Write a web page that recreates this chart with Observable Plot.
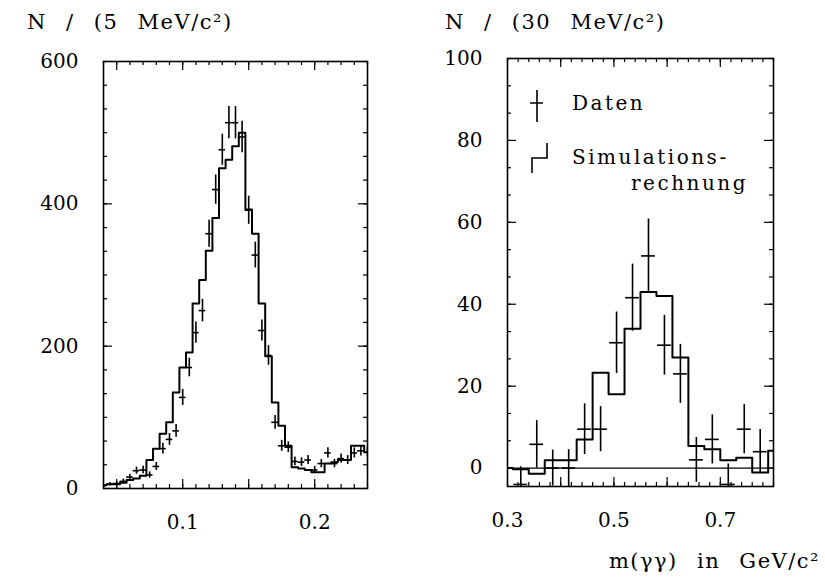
<!DOCTYPE html>
<html>
<head>
<meta charset="utf-8">
<script src="https://cdn.jsdelivr.net/npm/d3@7"></script>
<script src="https://cdn.jsdelivr.net/npm/@observablehq/plot@0.6"></script>
<style>
  body { margin: 0; background: #fff; }
  #page { position: relative; width: 825px; height: 578px; overflow: hidden; background: #fff; }
  #page > svg { position: absolute; }
</style>
</head>
<body>
<div id="page"></div>
<script>
// Left panel: m(γγ) around the π0, 5 MeV bins (bin centres in GeV/c²)
const massL = [0.040, 0.045, 0.050, 0.055, 0.060, 0.065, 0.070, 0.075, 0.080, 0.085,
               0.090, 0.095, 0.100, 0.105, 0.110, 0.115, 0.120, 0.125, 0.130, 0.135,
               0.140, 0.145, 0.150, 0.155, 0.160, 0.165, 0.170, 0.175, 0.180, 0.185,
               0.190, 0.195, 0.200, 0.205, 0.210, 0.215, 0.220, 0.225, 0.230, 0.235, 0.240];
// Simulation (histogram)
const simL  = [5, 6, 6, 8, 12, 14, 18, 40, 56, 77,
               93, 135, 170, 191, 260, 293, 334, 380, 450, 462,
               481, 500, 392, 358, 260, 186, 121, 88, 60, 30,
               28, 26, 23, 23, 35, 37, 40, 40, 60, 60, 51];
// Data (points with error bars)
const dataL = [4, 6, 7, 10, 16, 25, 26, 19, 31, 56,
               69, 81, 128, 170, 219, 250, 358, 420, 476, 514,
               514, 494, 391, 328, 222, 187, 93, 60, 58, 38,
               37, 40, 26, 35, 50, 35, 42, 40, 50, 53, 51];
const errL  = [2, 2.5, 2.6, 3.2, 4, 5, 5.1, 4.4, 5.6, 7.5,
               8.3, 9, 11.3, 13, 14.8, 15.8, 18.9, 20.5, 21.8, 22.7,
               22.7, 22.2, 19.8, 18.1, 14.9, 13.7, 9.6, 7.7, 7.6, 6.2,
               6.1, 6.3, 5.1, 5.9, 7.1, 5.9, 6.5, 6.3, 7.1, 7.3, 7.1];

// Right panel: η region, 30 MeV bins
const massSimR = [0.295, 0.325, 0.355, 0.385, 0.415, 0.445, 0.475, 0.505, 0.535,
                  0.565, 0.595, 0.625, 0.655, 0.685, 0.715, 0.745, 0.775, 0.805];
const simR     = [0, -0.3, -1.4, 1.9, 1.9, 7, 23.3, 18, 34,
                  43, 42, 27, 5.4, 4.6, 1.9, 2.5, -1.1, 4.2];
const massDataR = [0.325, 0.355, 0.385, 0.415, 0.445, 0.475, 0.505, 0.535,
                   0.565, 0.595, 0.625, 0.655, 0.685, 0.715, 0.745, 0.775];
const dataR     = [-4, 5.8, 0, 0, 9.5, 9.5, 30.6, 41.6,
                   51.8, 30, 23, 2, 7, -4, 9.5, 4];
const errR      = [4.3, 5.8, 4.4, 4.5, 6.2, 5.5, 7.5, 8.2,
                   9, 7.3, 7.2, 5.5, 6, 5, 6, 5.4];

// Axis tick labels
const xLabelsL = [0.1, 0.2];
const yLabelsL = [0, 200, 400, 600];
const xLabelsR = [0.3, 0.5, 0.7];
const yLabelsR = [0, 20, 40, 60, 80, 100];

const FONT = "'DejaVu Serif', 'Liberation Serif', serif";
const page = document.getElementById("page");

const simTableL  = massL.map((m, i) => ({m, n: simL[i]}));
const dataTableL = massL.map((m, i) => ({m, n: dataL[i], e: errL[i]}));
const simTableR  = massSimR.map((m, i) => ({m, n: simR[i]}));
const dataTableR = massDataR.map((m, i) => ({m, n: dataR[i], e: errR[i]}));

// Inward ticks on all four sides of the frame
function frameTicks(values, axis, len, iw, ih, sw) {
  if (axis === "x") return [
    Plot.tickX(values, {x: d => d, insetTop: ih - len, strokeWidth: sw}),
    Plot.tickX(values, {x: d => d, insetBottom: ih - len, strokeWidth: sw})
  ];
  return [
    Plot.tickY(values, {y: d => d, insetRight: iw - len, strokeWidth: sw}),
    Plot.tickY(values, {y: d => d, insetLeft: iw - len, strokeWidth: sw})
  ];
}

function panel(o) {
  const iw = o.width - o.ml - o.mr;
  const ih = o.height - o.mt - o.mb;
  const half = o.binHalf;
  const svg = Plot.plot({
    width: o.width, height: o.height,
    marginLeft: o.ml, marginRight: o.mr, marginTop: o.mt, marginBottom: o.mb,
    x: {domain: o.xDomain},
    y: {domain: o.yDomain},
    style: {fontFamily: FONT, fontSize: "20px", color: "#000", background: "transparent", overflow: "visible"},
    marks: [
      ...(o.zeroLine ? [Plot.ruleY([0], {strokeWidth: 1.2})] : []),
      Plot.line(o.sim, {x: "m", y: "n", curve: "step", stroke: "#000", strokeWidth: 2, clip: true}),
      Plot.ruleX(o.data, {x: "m", y1: d => d.n - d.e, y2: d => d.n + d.e, stroke: "#000", strokeWidth: 1.6, clip: true}),
      Plot.ruleY(o.data, {y: "n", x1: d => d.m - half, x2: d => d.m + half, stroke: "#000", strokeWidth: 1.6, clip: true}),
      ...frameTicks(o.xMinor, "x", 4, iw, ih, 1.2),
      ...frameTicks(o.xMajor, "x", 9, iw, ih, 1.2),
      ...frameTicks(o.yMinor, "y", 4, iw, ih, 1.2),
      ...frameTicks(o.yMajor, "y", 9, iw, ih, 1.2),
      Plot.frame({stroke: "#000", strokeWidth: 1.6}),
      Plot.axisX(o.xLabels, {tickSize: 0, tickPadding: 26, label: null, tickFormat: d => String(d)}),
      Plot.axisY(o.yLabels, {tickSize: 0, tickPadding: 25, label: null, tickFormat: d => String(d)})
    ]
  });
  svg.style.left = o.left + "px";
  svg.style.top = "0px";
  page.appendChild(svg);
}

panel({
  left: 0, width: 400, height: 578, ml: 103, mr: 33, mt: 61, mb: 90,
  xDomain: [0.04, 0.24], yDomain: [0, 600],
  sim: simTableL, data: dataTableL, binHalf: 0.0025,
  xMinor: d3.range(0.04, 0.2401, 0.01), xMajor: [0.05, 0.1, 0.15, 0.2],
  yMinor: d3.range(0, 600.1, 200 / 6), yMajor: [200, 400],
  xLabels: xLabelsL, yLabels: yLabelsL, zeroLine: false
});

panel({
  left: 412, width: 413, height: 578, ml: 95, mr: 52, mt: 58, mb: 92,
  xDomain: [0.3, 0.8], yDomain: [-4.5, 100],
  sim: simTableR, data: dataTableR, binHalf: 0.013,
  xMinor: d3.range(0.3, 0.8001, 0.02), xMajor: [0.4, 0.5, 0.6, 0.7],
  yMinor: d3.range(0, 100.1, 20 / 3), yMajor: [20, 40, 60, 80],
  xLabels: xLabelsR, yLabels: yLabelsR, zeroLine: true
});

// Titles, axis title and legend
const ns = "http://www.w3.org/2000/svg";
const over = document.createElementNS(ns, "svg");
over.setAttribute("width", 825);
over.setAttribute("height", 578);
over.style.left = "0px";
over.style.top = "0px";
over.style.fontFamily = FONT;
page.appendChild(over);

function text(str, x, y, size, anchor, extra) {
  const t = document.createElementNS(ns, "text");
  t.setAttribute("x", x);
  t.setAttribute("y", y);
  t.setAttribute("font-size", size);
  t.setAttribute("dominant-baseline", "central");
  t.setAttribute("text-anchor", anchor || "start");
  if (extra) for (const k in extra) t.setAttribute(k, extra[k]);
  t.textContent = str;
  over.appendChild(t);
}
function path(d) {
  const p = document.createElementNS(ns, "path");
  p.setAttribute("d", d);
  p.setAttribute("fill", "none");
  p.setAttribute("stroke", "#000");
  p.setAttribute("stroke-width", 1.6);
  over.appendChild(p);
}

const spaced = {"word-spacing": "11px", "letter-spacing": "1.5px"};
text("N / (5 MeV/c²)", 27, 22, 21, "start", spaced);
text("N / (30 MeV/c²)", 445, 22, 21, "start", spaced);
text("m(γγ) in GeV/c²", 820, 561, 21, "end", spaced);

// Legend symbols
path("M537,90V122M530,103H543");
path("M532,173V158H547V143");
text("Daten", 572, 103, 20, "start", {"letter-spacing": "2.5px"});
text("Simulations-", 572, 157, 20, "start", {"letter-spacing": "2.5px"});
text("rechnung", 748, 183, 20, "end", {"letter-spacing": "2.5px"});
</script>
</body>
</html>
